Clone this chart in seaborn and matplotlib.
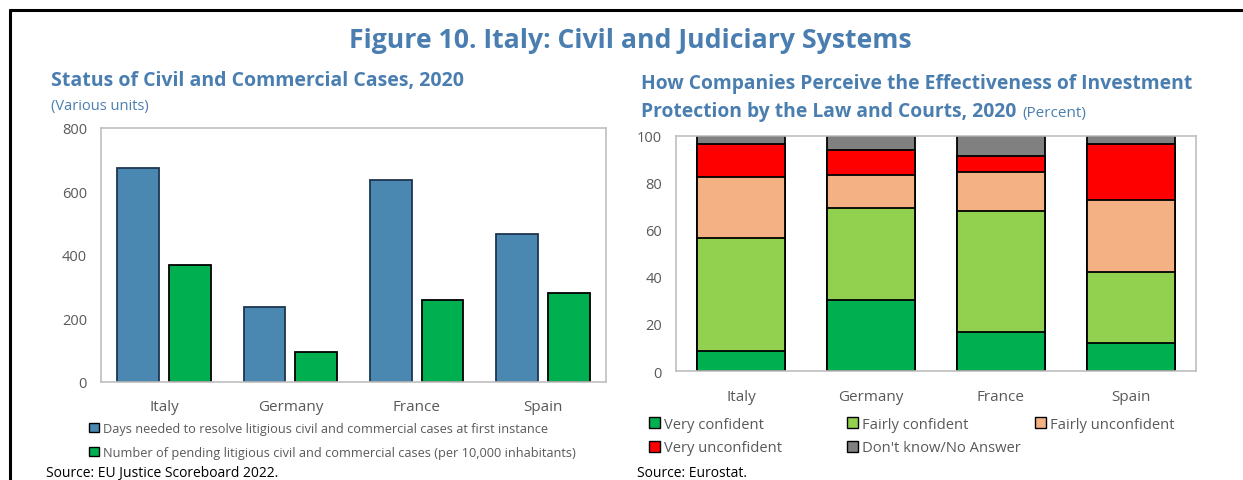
import numpy as np
import pandas as pd
import matplotlib
matplotlib.use("Agg")
import matplotlib.pyplot as plt
import seaborn as sns

# ---------------- data ----------------
countries = ["Italy", "Germany", "France", "Spain"]

left_series = [
    "Days needed to resolve litigious civil and commercial cases at first instance",
    "Number of pending litigious civil and commercial cases (per 10,000 inhabitants)",
]
days_needed = [674, 236, 636, 466]
pending_cases = [368, 94, 258, 280]

right_series = ["Very confident", "Fairly confident", "Fairly unconfident",
                "Very unconfident", "Don't know/No Answer"]
very_confident = [8.4, 30.4, 16.5, 11.9]
fairly_confident = [48.2, 38.8, 51.6, 30.2]
fairly_unconfident = [25.8, 14.1, 16.7, 30.5]
very_unconfident = [14.2, 10.9, 6.7, 23.9]
dont_know = [3.4, 5.8, 8.5, 3.5]

left_yticks = [0, 200, 400, 600, 800]
right_yticks = [0, 20, 40, 60, 80, 100]

# ---------------- style ----------------
sns.set_theme(style="white")
plt.rcParams["font.family"] = ["Open Sans", "DejaVu Sans"]

W, H = 1243, 481
fig = plt.figure(figsize=(W / 100, H / 100), dpi=100)

def fx(x):
    return x / W

def fy(y):
    return 1 - y / H

TITLE_BLUE = "#4A7EB0"
GRAY_TXT = "#595959"
SPINE = "#BFBFBF"

c_blue = "#4A88B1"
c_green = "#00B050"
c_lgreen = "#92D050"
c_peach = "#F4B183"
c_red = "#FF0000"
c_gray = "#808080"

# frame lines
fig.add_artist(plt.Line2D([fx(10), fx(10)], [fy(11), 0], color="black", lw=2.2))
fig.add_artist(plt.Line2D([fx(10), 1], [fy(11), fy(11)], color="black", lw=2.2))

# ---------------- titles ----------------
fig.text(fx(630), fy(48), "Figure 10. Italy: Civil and Judiciary Systems",
         ha="center", va="baseline", fontsize=19.2, fontweight="bold", color=TITLE_BLUE)
fig.text(fx(51), fy(86), "Status of Civil and Commercial Cases, 2020",
         ha="left", va="baseline", fontsize=14, fontweight="bold", color=TITLE_BLUE)
fig.text(fx(51), fy(110), "(Various units)",
         ha="left", va="baseline", fontsize=10.5, color=TITLE_BLUE)
fig.text(fx(641), fy(89), "How Companies Perceive the Effectiveness of Investment",
         ha="left", va="baseline", fontsize=13.9, fontweight="bold", color=TITLE_BLUE)
t2 = fig.text(fx(641), fy(117), "Protection by the Law and Courts, 2020",
              ha="left", va="baseline", fontsize=13.9, fontweight="bold", color=TITLE_BLUE)
fig.canvas.draw()
bb = t2.get_window_extent()
fig.text(bb.x1 / W + fx(6), fy(117), "(Percent)",
         ha="left", va="baseline", fontsize=11, color=TITLE_BLUE)

fig.text(fx(46), fy(477), "Source: EU Justice Scoreboard 2022.",
         ha="left", va="baseline", fontsize=10, color="black")
fig.text(fx(637), fy(477), "Source: Eurostat.",
         ha="left", va="baseline", fontsize=10, color="black")

# ---------------- left chart ----------------
axL = fig.add_axes([fx(101), fy(383), (606 - 101) / W, (383 - 129) / H])
dfL = pd.DataFrame({
    "country": countries * 2,
    "series": [left_series[0]] * 4 + [left_series[1]] * 4,
    "value": days_needed + pending_cases,
})
sns.barplot(data=dfL, x="country", y="value", hue="series", order=countries,
            hue_order=left_series, palette=[c_blue, c_green], width=0.82, gap=0.19,
            saturation=1, edgecolor="black", linewidth=1.3, ax=axL, legend=True)
for p in axL.containers[0]:
    p.set_edgecolor("#1E3550")
axL.set_ylim(0, 800)
axL.set_yticks(left_yticks)
axL.set_xlim(-0.5, 3.5)

# ---------------- right chart ----------------
axR = fig.add_axes([fx(676), fy(372), (1196 - 676) / W, (372 - 137) / H])
stack = np.array([very_confident, fairly_confident, fairly_unconfident,
                  very_unconfident, dont_know])
cum = np.cumsum(stack, axis=0)
colorsR = [c_green, c_lgreen, c_peach, c_red, c_gray]
for i in range(len(right_series) - 1, -1, -1):
    dfi = pd.DataFrame({"country": countries, "value": cum[i],
                        "series": right_series[i]})
    sns.barplot(data=dfi, x="country", y="value", hue="series", order=countries,
                palette=[colorsR[i]], width=0.67, saturation=1, edgecolor="black",
                linewidth=1.3, ax=axR, legend=True)
axR.set_ylim(0, 100)
axR.set_yticks(right_yticks)
axR.set_xlim(-0.5, 3.5)

for ax in (axL, axR):
    ax.set_xlabel("")
    ax.set_ylabel("")
    for s in ax.spines.values():
        s.set_color(SPINE)
        s.set_linewidth(1.2)
    ax.tick_params(axis="y", length=0, labelsize=10.5, labelcolor=GRAY_TXT, pad=10)
    ax.tick_params(axis="x", which="major", length=0, labelsize=11,
                   labelcolor=GRAY_TXT)
    ax.set_xticks([0.5, 1.5, 2.5], minor=True)
    ax.tick_params(axis="x", which="minor", direction="in", length=4,
                   color=SPINE, width=1)
    ax.grid(False)

axL.tick_params(axis="x", which="major", pad=12)
axR.tick_params(axis="x", which="major", pad=13)

# ---------------- legends ----------------
hL, lL = axL.get_legend_handles_labels()
axL.get_legend().remove()
legL = fig.legend(hL, lL, loc="upper left", bbox_to_anchor=(fx(89), fy(423)),
                  frameon=False, fontsize=9.2, labelcolor=GRAY_TXT, handlelength=0.8,
                  handleheight=0.8, handletextpad=0.3, labelspacing=0.85,
                  borderaxespad=0, borderpad=0)
for h in legL.legend_handles:
    h.set_edgecolor("black")
    h.set_linewidth(1.0)

hR, lR = axR.get_legend_handles_labels()
axR.get_legend().remove()
hmap = dict(zip(lR, hR))
columns = [([0, 3], 649), ([1, 4], 847), ([2], 1035)]
for idx, xpix in columns:
    lg = fig.legend([hmap[right_series[k]] for k in idx],
                    [right_series[k] for k in idx],
                    loc="upper left", bbox_to_anchor=(fx(xpix), fy(418)),
                    frameon=False, fontsize=10.6, labelcolor=GRAY_TXT,
                    handlelength=0.75, handleheight=0.75, handletextpad=0.25,
                    labelspacing=0.57, borderaxespad=0, borderpad=0)
    for h in lg.legend_handles:
        h.set_edgecolor("black")
        h.set_linewidth(1.0)

fig.savefig("out.png", dpi=100)
